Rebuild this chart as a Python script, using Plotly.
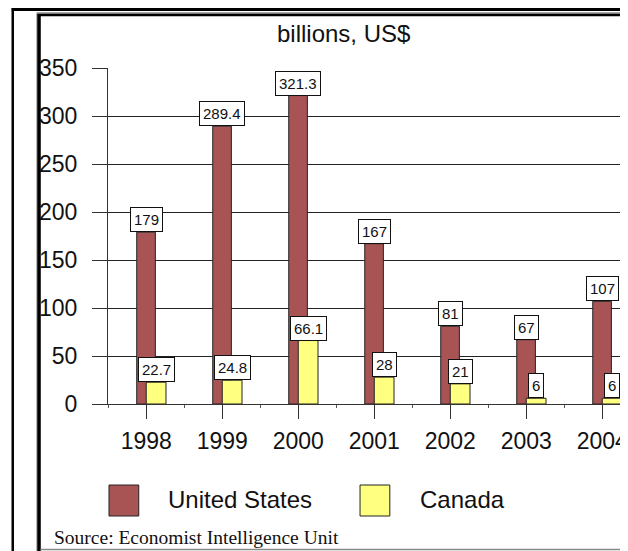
import plotly.graph_objects as go

years = ["1998", "1999", "2000", "2001", "2002", "2003", "2004"]
us_values = [179, 289.4, 321.3, 167, 81, 67, 107]
canada_values = [22.7, 24.8, 66.1, 28, 21, 6, 6]
series_names = ["United States", "Canada"]
y_ticks = [0, 50, 100, 150, 200, 250, 300, 350]
title_text = "billions, US$"
source_text = "Source: Economist Intelligence Unit"

US_COLOR = "#A85454"
CA_COLOR = "#FFFF80"
OFF = 8  # default page body margin
W, H = 628 - OFF, 551 - OFF
# plot area in reference (window) pixels
L, R, T, B = 108, 628, 68, 404


def px2x(px):
    return (px - L) / (R - L)


def py2y(py):
    return (B - py) / (B - T)


xs = list(range(len(years)))
US_OFF, US_W = -0.125, 0.245
CA_OFF, CA_W = 0.0, 0.26

fig = go.Figure()
fig.add_trace(go.Bar(
    x=xs, y=us_values, name=series_names[0], offset=US_OFF, width=US_W,
    marker=dict(color=US_COLOR, line=dict(color="#222222", width=1)),
    showlegend=False, hoverinfo="skip"))
fig.add_trace(go.Bar(
    x=xs, y=canada_values, name=series_names[1], offset=CA_OFF, width=CA_W,
    marker=dict(color=CA_COLOR, line=dict(color="#222222", width=1)),
    showlegend=False, hoverinfo="skip"))

annotations = []
label_font = dict(family="Liberation Sans, Arial, sans-serif", size=15, color="#111111")
for i, v in enumerate(us_values):
    annotations.append(dict(
        x=i + US_OFF + US_W / 2, y=v, xref="x", yref="y", text=f"{v:g}",
        showarrow=False, yanchor="bottom", xanchor="center",
        bgcolor="white", bordercolor="#111111", borderwidth=1, borderpad=3,
        font=label_font))
for i, v in enumerate(canada_values):
    annotations.append(dict(
        x=i + CA_OFF + CA_W / 2, y=v, xref="x", yref="y", text=f"{v:g}",
        showarrow=False, yanchor="bottom", xanchor="center",
        bgcolor="white", bordercolor="#111111", borderwidth=1, borderpad=3,
        font=label_font))

big_font = dict(family="Liberation Sans, Arial, sans-serif", size=23, color="#111111")

# title
annotations.append(dict(
    x=px2x(345), y=py2y(34), xref="paper", yref="paper", text=title_text,
    showarrow=False, xanchor="center", yanchor="middle",
    font=dict(family="Liberation Sans, Arial, sans-serif", size=24, color="#111111")))

# legend texts
leg_font = dict(family="Liberation Sans, Arial, sans-serif", size=24, color="#111111")
annotations.append(dict(
    x=px2x(166), y=py2y(500), xref="paper", yref="paper", text=series_names[0],
    showarrow=False, xanchor="left", yanchor="middle", font=leg_font))
annotations.append(dict(
    x=px2x(420), y=py2y(500), xref="paper", yref="paper", text=series_names[1],
    showarrow=False, xanchor="left", yanchor="middle", font=leg_font))

# source
annotations.append(dict(
    x=px2x(52), y=py2y(537), xref="paper", yref="paper", text=source_text,
    showarrow=False, xanchor="left", yanchor="middle",
    font=dict(family="Liberation Serif, Times New Roman, serif", size=19.5, color="#111111")))

shapes = []
# legend swatches
shapes.append(dict(type="rect", xref="paper", yref="paper",
                   x0=px2x(109), x1=px2x(139), y0=py2y(516), y1=py2y(485),
                   fillcolor=US_COLOR, line=dict(color="#222222", width=1)))
shapes.append(dict(type="rect", xref="paper", yref="paper",
                   x0=px2x(362), x1=px2x(392), y0=py2y(516), y1=py2y(485),
                   fillcolor=CA_COLOR, line=dict(color="#222222", width=1)))


def hline(py, x0, x1, color, width):
    shapes.append(dict(type="line", xref="paper", yref="paper",
                       x0=px2x(x0), x1=px2x(x1), y0=py2y(py), y1=py2y(py),
                       line=dict(color=color, width=width)))


def vline(px, y0, y1, color, width):
    shapes.append(dict(type="line", xref="paper", yref="paper",
                       x0=px2x(px), x1=px2x(px), y0=py2y(y0), y1=py2y(y1),
                       line=dict(color=color, width=width)))


# outer frame
vline(12, 8, 560, "#000000", 2.5)
hline(9.5, 11, 640, "#000000", 3)
# inner frame
hline(13, 36, 640, "#888888", 1.5)
hline(15, 37, 640, "#000000", 2.5)
vline(36.5, 13, 560, "#999999", 1.5)
vline(38.5, 14, 560, "#000000", 3.5)
hline(549.5, 40, 640, "#888888", 1.5)

fig.update_layout(
    width=W, height=H,
    margin=dict(l=L - OFF, r=0, t=T - OFF, b=551 - B, pad=0),
    paper_bgcolor="white", plot_bgcolor="white",
    barmode="overlay",
    annotations=annotations, shapes=shapes,
    xaxis=dict(
        range=[-0.503, 6.286], tickvals=xs, ticktext=years,
        showgrid=False, zeroline=False,
        showline=True, linecolor="#333333", linewidth=1,
        ticks="outside", ticklen=14, tickcolor="#333333", tickwidth=1,
        minor=dict(tick0=0.5, dtick=1, ticks="outside", ticklen=3,
                   tickcolor="#555555", showgrid=False),
        tickfont=big_font, ticklabelstandoff=2, ticklabeloverflow="allow",
    ),
    yaxis=dict(
        range=[0, 350], tickvals=y_ticks,
        showgrid=True, gridcolor="#222222", gridwidth=1, zeroline=False,
        showline=True, linecolor="#333333", linewidth=1,
        ticks="outside", ticklen=15, tickcolor="#333333", tickwidth=1,
        tickfont=big_font, ticklabelstandoff=10, ticklabeloverflow="allow",
    ),
)

fig.write_html("out.html")
